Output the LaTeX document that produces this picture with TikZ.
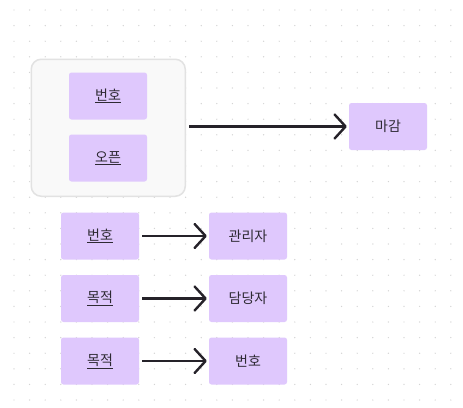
\documentclass[tikz,border=0pt]{standalone}
\usepackage{fontspec}
\newfontfamily\kr{Noto Sans CJK KR}
\usetikzlibrary{arrows.meta}
\definecolor{boxfill}{HTML}{DFC8FD}
\definecolor{txt}{HTML}{2E2A33}
\definecolor{contfill}{HTML}{F9F9F9}
\definecolor{contdraw}{HTML}{E2E2E2}
\definecolor{dotc}{HTML}{D4D4D4}
\tikzset{
  ent/.style={fill=boxfill, rounded corners=2.5pt, minimum width=78pt, minimum height=47pt, inner sep=0pt, font=\kr\fontsize{14}{16}\selectfont, text=txt},
  cont/.style={fill=contfill, draw=contdraw, line width=1.5pt, rounded corners=10pt},
  link/.style={line width=2.4pt, draw=txt!80!black, -{Straight Barb[length=11pt,width=24pt,line width=2.4pt,round]}}
}
\newcommand{\ul}[1]{\underline{#1}}
\begin{document}
\begin{tikzpicture}[x=1pt,y=-1pt]
\fill[white] (0,0) rectangle (463,407);
\useasboundingbox (0,0) rectangle (463,407);
\foreach \i in {0,...,29}{\foreach \j in {0,...,25}{
  \fill[dotc] ({14+15.6*\i},{10+15.6*\j}) circle (0.7pt);}}
\node[cont, minimum width=154pt, minimum height=137pt, anchor=north west] (grp) at (30.5,58.5) {};
\node[ent] (a1) at (108,96) {\ul{번호}};
\node[ent] (a2) at (108,158) {\ul{오픈}};
\node[ent] (m) at (388,126.5) {마감};
\node[ent] (b1) at (100,236) {\ul{번호}};
\node[ent] (c1) at (248,236) {관리자};
\node[ent] (b2) at (100,298.5) {\ul{목적}};
\node[ent] (c2) at (248,298.5) {담당자};
\node[ent] (b3) at (100,361) {\ul{목적}};
\node[ent] (c3) at (248,361) {번호};
\draw[link] ([xshift=3pt]grp.east |- m.west) -- ([xshift=-2pt]m.west);
\draw[link] ([xshift=3pt]b1.east) -- ([xshift=-2pt]c1.west);
\draw[link] ([xshift=3pt]b2.east) -- ([xshift=-2pt]c2.west);
\draw[link] ([xshift=3pt]b3.east) -- ([xshift=-2pt]c3.west);
\end{tikzpicture}
\end{document}
